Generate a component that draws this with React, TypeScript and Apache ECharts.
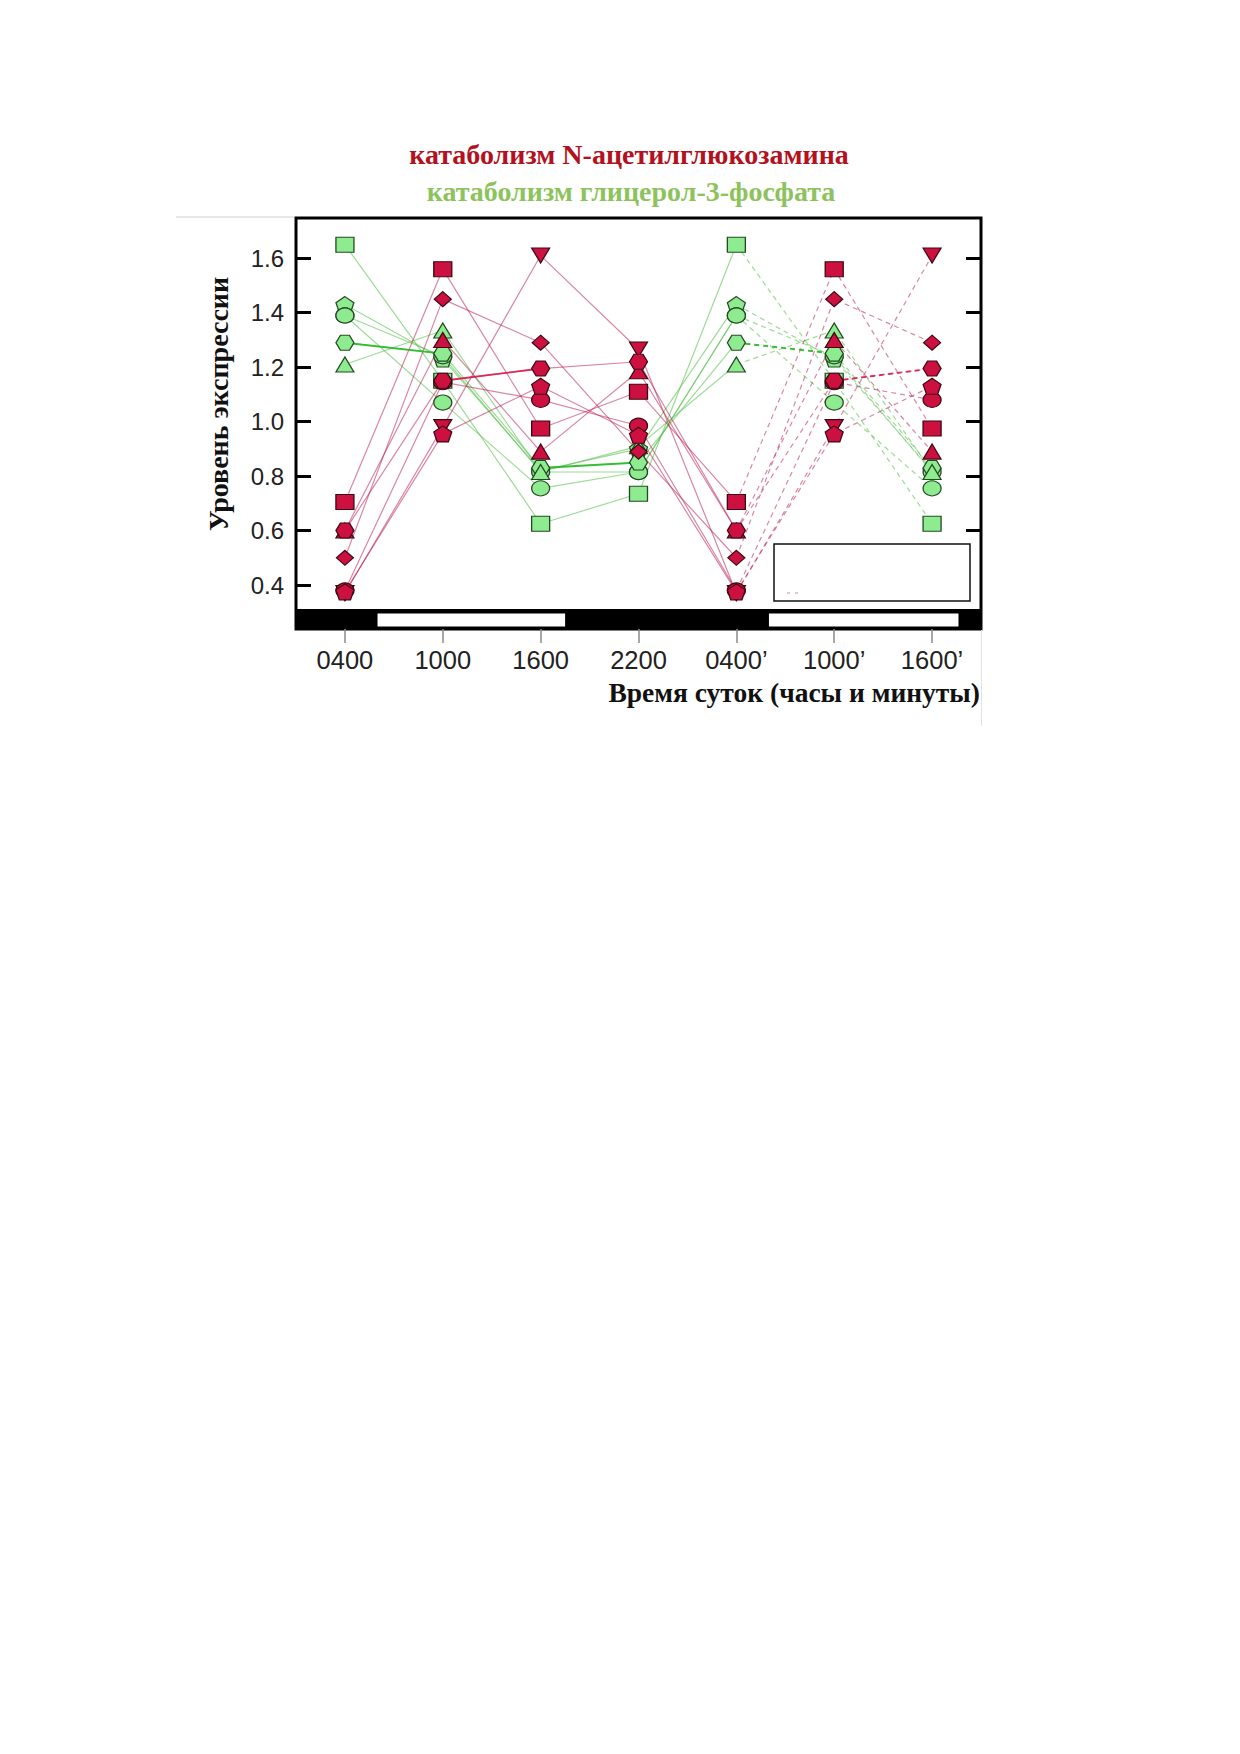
import React, { useEffect, useRef } from "react";
import * as echarts from "echarts";

// ---- categories & ticks ----
const timeLabels = ["0400", "1000", "1600", "2200", "0400’", "1000’", "1600’"];
const yTickValues = [0.4, 0.6, 0.8, 1.0, 1.2, 1.4, 1.6];
const rightTickValues = [0.6, 0.8, 1.0, 1.2, 1.4, 1.6];

// light (day) periods on the time axis, in category units (0 = 0400)
const dayPeriods = [
  [0.333, 2.25],
  [4.333, 6.27],
];
const fullSpan = [-0.5, 6.5];

// ---- glycerol-3-phosphate catabolism (green) ----
const gPentagon = [1.43, 1.23, 0.82, 0.9, 1.43, 1.23, 0.82];
const gCircleB = [1.39, 1.24, 0.815, 0.815, 1.39, 1.24, 0.815];
const gCircle = [1.39, 1.07, 0.755, 0.815, 1.39, 1.07, 0.755];
const gHexagon = [1.29, 1.25, 0.83, 0.85, 1.29, 1.25, 0.83];
const gTriangle = [1.21, 1.335, 0.815, 0.91, 1.21, 1.335, 0.815];
const gSquare = [1.65, 1.15, 0.625, 0.735, 1.65, 1.15, 0.625];

// ---- N-acetylglucosamine catabolism (red) ----
const rSquare = [0.705, 1.56, 0.975, 1.11, 0.705, 1.56, 0.975];
const rDiamond = [0.5, 1.45, 1.29, 0.89, 0.5, 1.45, 1.29];
const rInvTriangle = [0.37, 0.98, 1.61, 1.265, 0.37, 0.98, 1.61];
const rTriangle = [0.6, 1.3, 0.89, 1.185, 0.6, 1.3, 0.89];
const rHexagon = [0.6, 1.15, 1.195, 1.22, 0.6, 1.15, 1.195];
const rPentagon = [0.375, 0.955, 1.13, 0.95, 0.375, 0.955, 1.13];
const rCircle = [0.38, 1.145, 1.08, 0.985, 0.38, 1.145, 1.08];

const HEX = "path://M-10,0 L-5,-8.66 L5,-8.66 L10,0 L5,8.66 L-5,8.66 Z";
const PENT = "path://M0,-10 L9.51,-3.09 L5.88,8.09 L-5.88,8.09 L-9.51,-3.09 Z";

type Gene = { name: string; data: number[]; group: "g" | "r"; shape: string; boldSegments?: number[] };

const genes: Gene[] = [
  { name: "g-pentagon", data: gPentagon, group: "g", shape: "pentagon" },
  { name: "g-circle-b", data: gCircleB, group: "g", shape: "circle" },
  { name: "g-circle", data: gCircle, group: "g", shape: "circle" },
  { name: "g-hexagon", data: gHexagon, group: "g", shape: "hexagon", boldSegments: [0, 2, 4] },
  { name: "g-triangle", data: gTriangle, group: "g", shape: "triangle" },
  { name: "g-square", data: gSquare, group: "g", shape: "square" },
  { name: "r-square", data: rSquare, group: "r", shape: "square" },
  { name: "r-diamond", data: rDiamond, group: "r", shape: "diamond" },
  { name: "r-invtriangle", data: rInvTriangle, group: "r", shape: "invtriangle" },
  { name: "r-triangle", data: rTriangle, group: "r", shape: "triangle" },
  { name: "r-circle", data: rCircle, group: "r", shape: "circle" },
  { name: "r-pentagon", data: rPentagon, group: "r", shape: "pentagon" },
  { name: "r-hexagon", data: rHexagon, group: "r", shape: "hexagon", boldSegments: [1, 5] },
];

function symbolFor(shape: string) {
  switch (shape) {
    case "square":
      return { symbol: "rect", symbolSize: [18, 15], symbolRotate: 0 };
    case "circle":
      return { symbol: "circle", symbolSize: [18, 15], symbolRotate: 0 };
    case "diamond":
      return { symbol: "diamond", symbolSize: [17, 15], symbolRotate: 0 };
    case "triangle":
      return { symbol: "triangle", symbolSize: [18, 15], symbolRotate: 0 };
    case "invtriangle":
      return { symbol: "triangle", symbolSize: [18, 15], symbolRotate: 180 };
    case "hexagon":
      return { symbol: HEX, symbolSize: [18, 15], symbolRotate: 0 };
    default:
      return { symbol: PENT, symbolSize: [18, 16], symbolRotate: 0 };
  }
}

const SANS = "'Liberation Sans', Arial, sans-serif";
const SERIF = "'Liberation Serif', 'Times New Roman', serif";

function buildOption() {
  const series: any[] = [];
  const lastSolid = 4;

  genes.forEach((g) => {
    const color = g.group === "g" ? "rgba(90,195,80,0.6)" : "rgba(185,35,85,0.55)";
    const width = 1.2;
    series.push({
      type: "line",
      name: g.name + "-solid",
      data: g.data.map((v, i) => (i <= lastSolid ? v : null)),
      symbol: "none",
      connectNulls: false,
      lineStyle: { color, width, type: "solid" },
      z: 2,
      silent: true,
    });
    series.push({
      type: "line",
      name: g.name + "-dashed",
      data: g.data.map((v, i) => (i >= lastSolid ? v : null)),
      symbol: "none",
      connectNulls: false,
      lineStyle: { color, width, type: [5, 4] },
      z: 2,
      silent: true,
    });
    (g.boldSegments || []).forEach((s) => {
      const boldColor = g.group === "g" ? "rgba(40,185,40,0.9)" : "rgba(215,25,75,0.85)";
      series.push({
        type: "line",
        name: g.name + "-bold-" + s,
        data: g.data.map((v, i) => (i === s || i === s + 1 ? v : null)),
        symbol: "none",
        connectNulls: false,
        lineStyle: { color: boldColor, width: 1.9, type: s >= lastSolid ? [5, 4] : "solid" },
        z: 3,
        silent: true,
      });
    });
  });

  genes.forEach((g) => {
    const s = symbolFor(g.shape);
    series.push({
      type: "scatter",
      name: g.name,
      data: g.data,
      ...s,
      itemStyle:
        g.group === "g"
          ? { color: "#8feb8f", borderColor: "#234a23", borderWidth: 1.2, opacity: 1 }
          : { color: "#cc1040", borderColor: "#3d0812", borderWidth: 1.2, opacity: 1 },
      z: g.group === "g" ? 4 : 5,
      silent: true,
    });
  });

  const stripData = [
    [fullSpan[0], fullSpan[1], 0],
    ...dayPeriods.map((p) => [p[0], p[1], 1]),
  ];

  series.push({
    type: "custom",
    name: "light-dark",
    xAxisIndex: 1,
    yAxisIndex: 0,
    data: stripData,
    encode: { x: [0, 1], y: 2 },
    z: 6,
    silent: true,
    clip: false,
    renderItem: (params: any, api: any) => {
      const x0 = api.coord([api.value(0), 1])[0];
      const x1 = api.coord([api.value(1), 1])[0];
      const cs = params.coordSys;
      const bottom = cs.y + cs.height;
      const isDay = api.value(2) === 1;
      const top = isDay ? bottom - 15.5 : bottom - 20;
      const h = isDay ? 13 : 20;
      return {
        type: "rect",
        shape: { x: x0, y: top, width: x1 - x0, height: h },
        style: { fill: isDay ? "#ffffff" : "#000000" },
      };
    },
  });

  return {
    animation: false,
    backgroundColor: "#ffffff",
    grid: {
      left: 296,
      top: 218,
      width: 685,
      height: 411,
      show: true,
      backgroundColor: "transparent",
      borderColor: "#000",
      borderWidth: 3,
      containLabel: false,
      outerBoundsMode: "none",
    },
    xAxis: [
      {
        type: "category",
        data: timeLabels,
        boundaryGap: true,
        position: "bottom",
        axisLine: { show: false, onZero: false },
        axisTick: {
          show: true,
          alignWithLabel: true,
          length: 14,
          lineStyle: { color: "#8a8a8a", width: 1.5 },
        },
        axisLabel: {
          fontSize: 25.5,
          color: "#222",
          fontFamily: SANS,
          margin: 18,
          interval: 0,
        },
        splitLine: { show: false },
      },
      {
        type: "value",
        min: fullSpan[0],
        max: fullSpan[1],
        show: false,
        axisLine: { onZero: false },
      },
    ],
    yAxis: [
      {
        type: "value",
        min: 0.2384,
        max: 1.748,
        position: "left",
        axisLine: { show: false, onZero: false },
        axisTick: {
          show: true,
          inside: true,
          length: 15,
          customValues: yTickValues,
          lineStyle: { color: "#000", width: 3 },
        },
        axisLabel: {
          show: true,
          customValues: yTickValues,
          formatter: (v: number) => v.toFixed(1),
          fontSize: 24,
          color: "#222",
          fontFamily: SANS,
          margin: 12,
        },
        splitLine: { show: false },
      },
      {
        type: "value",
        min: 0.2384,
        max: 1.748,
        position: "right",
        axisLine: { show: false, onZero: false },
        axisTick: {
          show: true,
          inside: true,
          length: 15,
          customValues: rightTickValues,
          lineStyle: { color: "#000", width: 3 },
        },
        axisLabel: { show: false, customValues: rightTickValues },
        splitLine: { show: false },
      },
    ],
    graphic: [
      {
        type: "text",
        z: 100,
        x: 629,
        y: 154,
        style: {
          text: "катаболизм N-ацетилглюкозамина",
          fontSize: 28,
          fontWeight: "bold",
          fontFamily: SERIF,
          fill: "#b3111d",
          align: "center",
          verticalAlign: "middle",
        },
      },
      {
        type: "text",
        z: 100,
        x: 631,
        y: 191,
        style: {
          text: "катаболизм глицерол-3-фосфата",
          fontSize: 28,
          fontWeight: "bold",
          fontFamily: SERIF,
          fill: "#8dc35d",
          align: "center",
          verticalAlign: "middle",
        },
      },
      {
        type: "text",
        z: 100,
        x: 218,
        y: 404,
        rotation: Math.PI / 2,
        style: {
          text: "Уровень экспрессии",
          fontSize: 28,
          fontWeight: "bold",
          fontFamily: SERIF,
          fill: "#111",
          align: "center",
          verticalAlign: "middle",
        },
      },
      {
        type: "text",
        z: 100,
        x: 980,
        y: 692,
        style: {
          text: "Время суток (часы и минуты)",
          fontSize: 27.5,
          fontWeight: "bold",
          fontFamily: SERIF,
          fill: "#111",
          align: "right",
          verticalAlign: "middle",
        },
      },
      {
        type: "rect",
        z: 100,
        shape: { x: 774, y: 544, width: 196, height: 57 },
        style: { fill: "#ffffff", stroke: "#111", lineWidth: 1.5 },
      },
      {
        type: "line",
        z: 101,
        shape: { x1: 787, y1: 593, x2: 803, y2: 593 },
        style: { stroke: "rgba(200,60,110,0.6)", lineWidth: 1.2, lineDash: [3, 5] },
      },
      {
        type: "line",
        z: 100,
        shape: { x1: 176, y1: 217, x2: 294, y2: 217 },
        style: { stroke: "#d0d0d0", lineWidth: 1 },
      },
      {
        type: "line",
        z: 100,
        shape: { x1: 981.5, y1: 630, x2: 981.5, y2: 726 },
        style: { stroke: "#e2e2e2", lineWidth: 1 },
      },
    ],
    series,
  };
}

export default function App() {
  const ref = useRef<HTMLDivElement>(null);
  useEffect(() => {
    if (!ref.current) return;
    const chart = echarts.init(ref.current, undefined, { renderer: "svg" });
    chart.setOption(buildOption() as any);
    return () => {
      chart.dispose();
    };
  }, []);
  return (
    <div
      ref={ref}
      style={{ position: "absolute", left: 0, top: 0, width: 1240, height: 1754, background: "#fff" }}
    />
  );
}
